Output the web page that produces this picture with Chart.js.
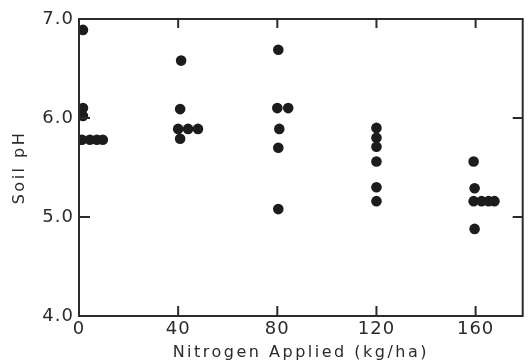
<!DOCTYPE html>
<html>
<head>
<meta charset="utf-8">
<script src="https://cdn.jsdelivr.net/npm/chart.js@4"></script>
<style>
  html, body { margin: 0; padding: 0; background: #fff; }
  #wrap { width: 528px; height: 364px; }
</style>
</head>
<body>
<div id="wrap"><canvas id="myChart"></canvas></div>
<script>
// data (small x offsets = side-by-side dots in the original)
var nitrogen = [1.6, 1.6, 1.6, 1.2, 4.4, 7.2, 9.6,
  41.2, 40.8, 40, 44, 48, 40.8,
  80.4, 80, 84.4, 80.8, 80.4, 80.4,
  120, 120, 120, 120, 120, 120,
  159.2, 159.6, 159.2, 162.4, 165.2, 167.6, 159.6];
var soilPh = [6.89, 6.10, 6.02, 5.78, 5.78, 5.78, 5.78,
  6.58, 6.09, 5.89, 5.89, 5.89, 5.79,
  6.69, 6.10, 6.10, 5.89, 5.70, 5.08,
  5.90, 5.80, 5.71, 5.56, 5.30, 5.16,
  5.56, 5.29, 5.16, 5.16, 5.16, 5.16, 4.88];
var xTicks = [0, 40, 80, 120, 160];
var yTicks = [4, 5, 6, 7];

var ink = '#2b2b2b';

// titles get wide letter spacing, tick labels (drawn later, z:1) a little less
var spacing = {
  id: 'spacing',
  beforeUpdate: function(chart) { chart.ctx.letterSpacing = '2.5px'; },
  beforeDraw: function(chart) { chart.ctx.letterSpacing = '2.5px'; },
  afterDatasetsDraw: function(chart) { chart.ctx.letterSpacing = '1px'; }
};

// box round the plot with inward tick marks on all four sides
var frame = {
  id: 'frame',
  afterDatasetsDraw: function(chart) {
    var ctx = chart.ctx, a = chart.chartArea;
    var xs = chart.scales.x, ys = chart.scales.y;
    ctx.save();
    ctx.strokeStyle = ink;
    ctx.lineWidth = 2;
    ctx.strokeRect(a.left, a.top, a.right - a.left, a.bottom - a.top);
    ctx.beginPath();
    xTicks.forEach(function(v) {
      var px = xs.getPixelForValue(v);
      ctx.moveTo(px, a.bottom); ctx.lineTo(px, a.bottom - 10);
      ctx.moveTo(px, a.top); ctx.lineTo(px, a.top + 9);
    });
    yTicks.forEach(function(v) {
      var py = ys.getPixelForValue(v);
      ctx.moveTo(a.left, py); ctx.lineTo(a.left + 11, py);
      ctx.moveTo(a.right, py); ctx.lineTo(a.right - 10, py);
    });
    ctx.stroke();
    ctx.restore();
  }
};

var points = nitrogen.map(function(n, i) { return {x: n, y: soilPh[i]}; });

var myChart = new Chart(document.getElementById('myChart'), {
  type: 'scatter',
  data: {
    datasets: [{
      data: points,
      backgroundColor: '#1c1c1c',
      borderColor: '#1c1c1c',
      borderWidth: 0,
      pointRadius: 5.3
    }]
  },
  options: {
    responsive: true,
    maintainAspectRatio: false,
    animation: false,
    layout: { padding: { top: 19, right: 2, left: 0, bottom: 0 } },
    plugins: { legend: { display: false }, tooltip: { enabled: false } },
    scales: {
      x: {
        type: 'linear',
        min: 0,
        max: 179,
        afterBuildTicks: function(s) { s.ticks = xTicks.map(function(v) { return {value: v}; }); },
        afterFit: function(s) { s.height = 48; },
        grid: { display: false, drawTicks: false },
        border: { display: false },
        ticks: {
          z: 1,
          color: ink,
          padding: 3,
          maxRotation: 0,
          font: { family: 'DejaVu Sans', size: 18 }
        },
        title: {
          display: true,
          text: 'Nitrogen Applied (kg/ha)',
          color: ink,
          padding: { top: 0, bottom: 2 },
          font: { family: 'DejaVu Sans', size: 16 }
        }
      },
      y: {
        type: 'linear',
        min: 4,
        max: 7,
        afterBuildTicks: function(s) { s.ticks = yTicks.map(function(v) { return {value: v}; }); },
        afterFit: function(s) { s.width = 79; },
        grid: { display: false, drawTicks: false },
        border: { display: false },
        ticks: {
          z: 1,
          color: ink,
          padding: 5,
          font: { family: 'DejaVu Sans', size: 18 },
          callback: function(v) { return Number(v).toFixed(1); }
        },
        title: {
          display: true,
          text: 'Soil pH',
          color: ink,
          padding: { top: 10, bottom: 0 },
          font: { family: 'DejaVu Sans', size: 16 }
        }
      }
    }
  },
  plugins: [spacing, frame]
});
</script>
</body>
</html>
